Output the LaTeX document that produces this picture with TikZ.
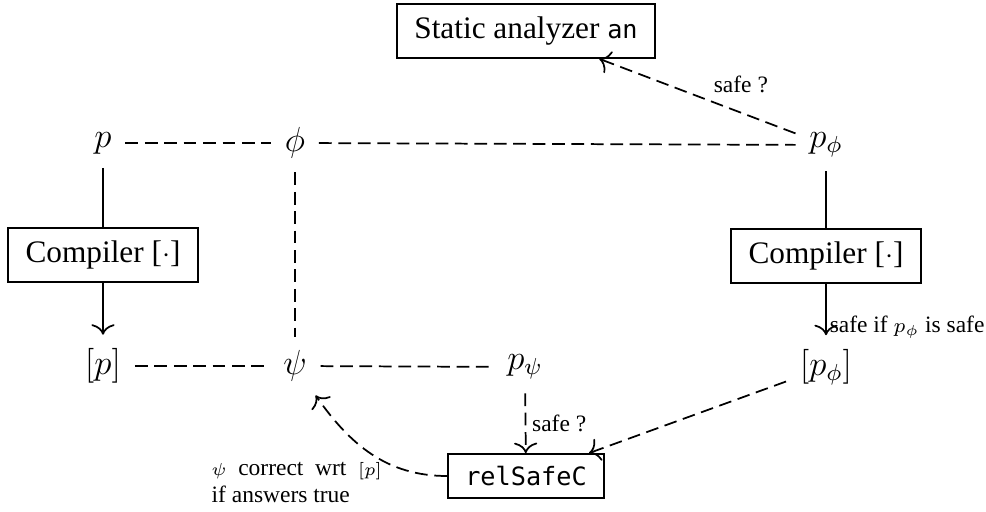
\documentclass[tikz,border=0pt]{standalone}
\usepackage{fontspec}
\setmainfont{Liberation Serif}[Scale=1.08]
\setmonofont{DejaVu Sans Mono}[Scale=0.87]
\usetikzlibrary{arrows.meta}
\newcommand{\smallmath}[1]{{\fontsize{6.2pt}{7pt}\selectfont$#1$}}
\begin{document}
\begin{tikzpicture}[x=0.345pt,y=0.345pt, line width=0.6pt, >={To[length=3.6pt,width=8pt]},
  box/.style={draw, rectangle, inner xsep=6pt, minimum height=18.6pt},
  obj/.style={inner sep=4.5pt, font=\large},
  dsh/.style={dash pattern=on 4.4pt off 2.3pt},
  lbl/.style={font=\fontsize{7.5pt}{9.2pt}\selectfont, inner sep=2pt}]
  \useasboundingbox (0,0) rectangle (986,512);
  % boxes
  \node[box] (sa) at (526,481) {Static analyzer \texttt{an}};
  \node[box] (compL) at (103,257) {Compiler [$\cdot$]};
  \node[box] (compR) at (826,256) {Compiler [$\cdot$]};
  \node[box, minimum height=15.2pt] (rel) at (526,36) {\texttt{relSafeC}};
  % programs and formulas
  \node[obj] (p) at (103,369) {$p$};
  \node[obj] (phi) at (295,369) {$\phi$};
  \node[obj] (pphi) at (826,367) {$p_\phi$};
  \node[obj] (bp) at (103,146) {$[p]$};
  \node[obj] (psi) at (295,146) {$\psi$};
  \node[obj] (ppsi) at (525,145) {$p_\psi$};
  \node[obj] (bpphi) at (826,145) {$[p_\phi]$};
  \node[lbl, align=left, anchor=north west] (note) at (205,56) {\smallmath{\psi} \ correct \ wrt \ \smallmath{[p]}\\if answers true};
  % relations
  \path[dsh] (p) edge (phi);
  \path[dsh] (phi) edge (pphi);
  \path[dsh] (phi) edge (psi);
  \path[dsh] (bp) edge (psi);
  \path[dsh] (psi) edge (ppsi);
  % compilation
  \path (p) edge (compL);
  \path[->] (compL) edge (bp);
  \path (pphi) edge (compR);
  \path[->] (compR) edge node[lbl, pos=0.85, right, inner sep=1pt] {safe if $p_\phi$ is safe} (bpphi);
  % checks
  \path[dsh,->] (pphi) edge node[lbl, pos=0.45, above right] {safe ?} (sa);
  \path[dsh,->] (ppsi) edge node[lbl, right] {safe ?} (rel);
  \path[dsh,->] (bpphi) edge (rel);
  \path[dsh,->] (rel) edge[out=180, in=-55] (psi);
\end{tikzpicture}
\end{document}
